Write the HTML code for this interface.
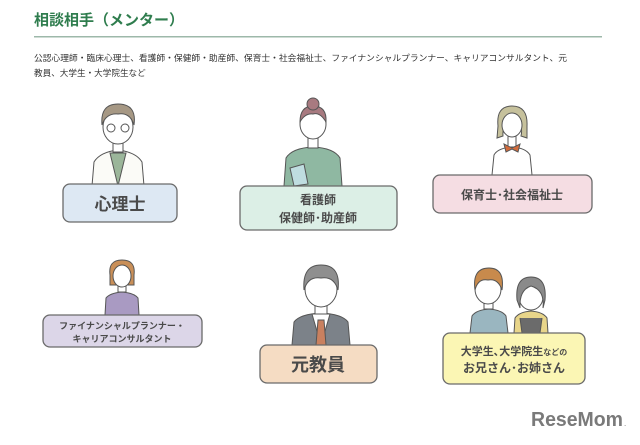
<!DOCTYPE html>
<html><head><meta charset="utf-8"><style>
body{margin:0;width:640px;height:440px;background:#fff;overflow:hidden;font-family:"Liberation Sans","Noto Sans CJK JP",sans-serif}
svg text{font-family:"Liberation Sans","Noto Sans CJK JP",sans-serif}
</style></head><body>
<svg width="640" height="440" viewBox="0 0 640 440" xmlns="http://www.w3.org/2000/svg">
<text x="34" y="25" font-size="15" font-weight="bold" fill="#2f7d4e">相談相手（メンター）</text>
<rect x="34" y="36" width="568" height="1.5" fill="#9db8aa"/>
<text x="34" y="61" font-size="8.6" fill="#333" textLength="533" lengthAdjust="spacingAndGlyphs">公認心理師・臨床心理士、看護師・保健師・助産師、保育士・社会福祉士、ファイナンシャルプランナー、キャリアコンサルタント、元</text>
<text x="34" y="76" font-size="8.6" fill="#333">教員、大学生・大学院生など</text>

<g stroke="#555" stroke-width="1">
<path d="M92 186 L94 162 Q100 152 118 150 Q136 152 142 162 L144 186 Z" fill="#fbfbf7"/>
<path d="M110 153 L118 186 L126 153 Z" fill="#9bb69a"/>
<rect x="113" y="138" width="10" height="14" fill="#fff"/>
<ellipse cx="118" cy="127" rx="15" ry="17" fill="#fff"/>
<path d="M102 125 Q100 104 118 104 Q137 104 134 125 Q130 112 118 114 Q106 113 102 125Z" fill="#a69884"/>
<circle cx="111" cy="128" r="4" fill="none"/><circle cx="125" cy="128" r="4" fill="none"/>
<path d="M284 186 L286 158 Q292 148 313 147 Q334 148 340 158 L342 186 Z" fill="#8fb8a2"/>
<rect x="308" y="134" width="10" height="14" fill="#fff"/>
<ellipse cx="313" cy="124" rx="13" ry="15" fill="#fff"/>
<path d="M300 122 Q300 106 313 106 Q327 106 326 122 Q320 112 313 114 Q305 113 300 122Z" fill="#a87a80"/>
<circle cx="313" cy="104" r="6" fill="#a87a80"/>
<path d="M290 168 L304 164 L308 184 L294 186Z" fill="#bfdde0"/>
<path d="M492 175 L494 155 Q498 148 512 147 Q526 148 530 155 L532 175 Z" fill="#fff"/>
<rect x="508" y="134" width="8" height="13" fill="#fff"/>
<path d="M498 126 Q496 106 512 106 Q528 106 527 126 L527 138 L521 136 Q524 124 512 116 Q502 124 503 136 L497 138Z" fill="#c6c19c"/>
<ellipse cx="512" cy="125" rx="10" ry="12" fill="#fff"/>
<path d="M504 144 L512 148 L520 144 L518 152 L512 149 L506 152Z" fill="#d26b3b"/>
<path d="M105 315 L106 298 Q110 293 122 292 Q134 293 138 298 L139 315 Z" fill="#a99ac2"/>
<rect x="118" y="282" width="8" height="10" fill="#fff"/>
<path d="M110 275 Q108 260 122 260 Q136 260 134 275 L134 285 L110 285Z" fill="#c98f58"/>
<ellipse cx="122" cy="276" rx="9" ry="11" fill="#fff"/>
<path d="M292 345 L294 322 Q300 314 321 313 Q342 314 348 322 L350 345 Z" fill="#7c8289"/>
<path d="M312 314 L321 345 L330 314Z" fill="#fff"/>
<path d="M318 320 L324 320 L326 345 L316 345Z" fill="#c9805f"/>
<rect x="315" y="302" width="12" height="12" fill="#fff"/>
<ellipse cx="321" cy="289" rx="16" ry="18" fill="#fff"/>
<path d="M304 290 Q302 265 321 265 Q341 265 338 290 Q334 276 321 278 Q308 276 304 290Z" fill="#8f8f8f"/>
<path d="M470 333 L472 316 Q476 310 489 309 Q502 310 506 316 L508 333 Z" fill="#9ab6c0"/>
<rect x="484" y="298" width="9" height="11" fill="#fff"/>
<ellipse cx="488" cy="289" rx="13" ry="15" fill="#fff"/>
<path d="M475 290 Q472 268 489 268 Q505 268 502 290 Q498 278 488 280 Q478 278 475 290Z" fill="#c88a4c"/>
<path d="M514 333 L515 318 Q519 312 531 311 Q543 312 547 318 L548 333 Z" fill="#e8d58a"/>
<path d="M520 318 L522 333 L540 333 L542 318" fill="#6b6b6b"/>
<ellipse cx="531" cy="297" rx="12" ry="13" fill="#fff"/>
<path d="M517 300 Q515 277 531 277 Q547 277 545 300 L543 308 Q545 290 531 286 Q519 290 520 308Z" fill="#8a8a8a"/>
</g>

<g stroke="#6a6a6a" stroke-width="1.3">
<rect x="63" y="184" width="114" height="38" rx="7" fill="#dde8f3"/>
<rect x="240" y="186" width="157" height="44" rx="7" fill="#dcefe6"/>
<rect x="433" y="175" width="159" height="38" rx="7" fill="#f5dde3"/>
<rect x="43" y="315" width="159" height="32" rx="7" fill="#dcd6e8"/>
<rect x="260" y="345" width="117" height="38" rx="7" fill="#f5dcc3"/>
<rect x="443" y="333" width="142" height="51" rx="7" fill="#fbf6b4"/>
</g>
<g fill="#4a4a4a" font-weight="bold" text-anchor="middle">
<text x="120" y="210" font-size="17">心理士</text>
<text x="318" y="204" font-size="12">看護師</text>
<text x="318" y="222" font-size="12">保健師･助産師</text>
<text x="512" y="199" font-size="12">保育士･社会福祉士</text>
<text x="122" y="329" font-size="9">ファイナンシャルプランナー・</text>
<text x="122" y="342" font-size="9">キャリアコンサルタント</text>
<text x="318" y="371" font-size="18">元教員</text>
<text x="514" y="355" font-size="11">大学生､大学院生<tspan font-size="8">などの</tspan></text>
<text x="514" y="372" font-size="12">お兄さん･お姉さん</text>
</g>
<text x="531" y="426" font-size="20" font-weight="bold" fill="#7a7a7a" textLength="92" lengthAdjust="spacingAndGlyphs">ReseMom</text>
<text x="624" y="426" font-size="8" fill="#7a7a7a">.</text>
</svg>
</body></html>
